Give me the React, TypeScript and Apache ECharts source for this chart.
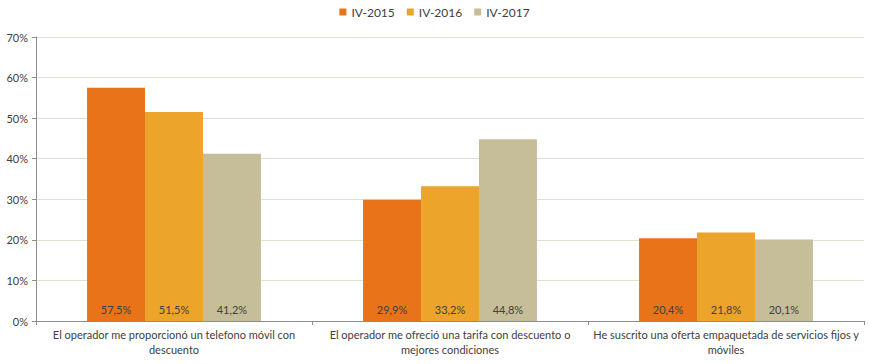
import React, { useEffect, useRef } from "react";
import * as echarts from "echarts";

const categories = [
  "El operador me proporcionó un telefono móvil con\ndescuento",
  "El operador me ofreció una tarifa con descuento o\nmejores condiciones",
  "He suscrito una oferta empaquetada de servicios fijos y\nmóviles",
];
const seriesNames = ["IV-2015", "IV-2016", "IV-2017"];
const values2015 = [57.5, 29.9, 20.4];
const values2016 = [51.5, 33.2, 21.8];
const values2017 = [41.2, 44.8, 20.1];
const colors = ["#E97318", "#EDA42B", "#C5BE98"];

export default function App() {
  const ref = useRef<HTMLDivElement>(null);
  useEffect(() => {
    if (!ref.current) return;
    const chart = echarts.init(ref.current, undefined, { renderer: "svg" });
    const font = "Lato, 'Open Sans', sans-serif";
    const data = [values2015, values2016, values2017];
    chart.setOption({
      animation: false,
      textStyle: { fontFamily: font },
      legend: {
        top: 1,
        left: "center",
        icon: "rect",
        itemWidth: 7,
        itemHeight: 7,
        itemGap: 12,
        textStyle: { fontSize: 12, color: "#404040", fontFamily: font },
        data: seriesNames,
      },
      grid: { left: 36, right: 5, top: 37, bottom: 43, containLabel: false },
      xAxis: {
        type: "category",
        data: categories,
        axisLine: { lineStyle: { color: "#8c8c8c" } },
        axisTick: { show: true, alignWithLabel: false, length: 4, lineStyle: { color: "#8c8c8c" } },
        axisLabel: { color: "#404040", fontSize: 11, fontFamily: font, interval: 0, lineHeight: 15, margin: 6 },
      },
      yAxis: {
        type: "value",
        min: 0,
        max: 70,
        interval: 10,
        axisLine: { show: true, lineStyle: { color: "#8c8c8c" } },
        axisTick: { show: true, length: 4, lineStyle: { color: "#8c8c8c" } },
        axisLabel: { color: "#404040", fontSize: 11, fontFamily: font, formatter: "{value}%", margin: 8 },
        splitLine: { lineStyle: { color: "#E3E0CF" } },
      },
      series: seriesNames.map((name, i) => ({
        name,
        type: "bar",
        data: data[i],
        barGap: "0%",
        barCategoryGap: "37%",
        itemStyle: { color: colors[i] },
        label: {
          show: true,
          position: "insideBottom",
          distance: 6,
          color: "#404040",
          fontSize: 11,
          fontFamily: font,
          formatter: (p: any) => p.value.toFixed(1).replace(".", ",") + "%",
        },
      })),
    });
    return () => chart.dispose();
  }, []);
  return <div ref={ref} style={{ position: "absolute", left: 0, top: 0, width: 869, height: 364 }} />;
}
